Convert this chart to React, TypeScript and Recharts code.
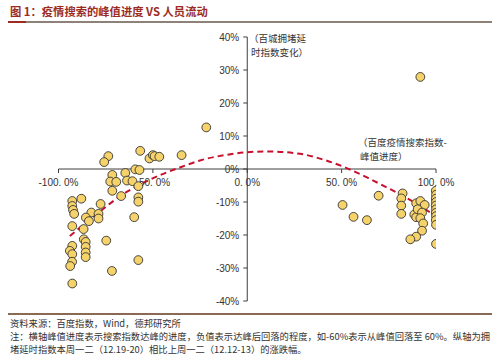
import { ComposedChart, Scatter, Line, XAxis, YAxis, ReferenceLine, ReferenceDot } from "recharts"

// 横轴：百度疫情搜索指数峰值进度 (%)，纵轴：百城拥堵延时指数变化 (%)
const leftProgress = [
  -73.6, -75.8, -71.5, -64.6, -72.6, -69.4, -71.5, -66.8, -92.7, -87.9,
  -92.7, -77.7, -92.3, -91.7, -82.6, -78.8, -85.5, -78.8, -83.9, -92.7,
  -86.7, -59.9, -86.6, -85.6, -85.6, -85.6, -85.6, -74.7, -92.7, -94.0,
  -92.7, -92.8, -93.8, -57.7, -71.7, -92.7, -59.3, -57.1, -63.7, -60.8,
  -57.7, -57.7, -57.7, -56.7, -51.8, -50.0, -49.1, -46.6, -34.8, -21.7,
]
const leftChange = [
  3.9, 2.1, -1.8, -1.2, -3.8, -3.9, -6.6, -8.2, -9.7, -9.0,
  -11.2, -10.6, -12.4, -13.6, -13.2, -13.6, -14.7, -15.0, -15.8, -17.3,
  -18.2, -14.6, -21.3, -22.1, -23.6, -25.3, -26.7, -21.7, -23.3, -24.8,
  -25.8, -28.1, -29.4, -27.6, -30.9, -34.7, -0.1, -0.3, -3.5, -3.7,
  -5.2, -8.6, -9.9, 5.5, 3.2, 4.2, 3.9, 3.7, 4.2, 12.6,
]
const rightProgress = [
  50.5, 56.3, 63.4, 69.6, 82.3, 81.6, 81.6, 81.6, 88.5, 89.5,
  89.5, 91.7, 94.0, 90.3, 92.6, 91.7, 93.2, 92.6, 89.5, 86.4,
  91.7, 100.0, 99.9, 100.0, 99.9, 100.0, 99.9, 100.0, 99.9, 100.0, 99.9,
]
const rightChange = [
  -10.9, -14.5, -15.5, -8.1, -7.4, -8.9, -11.1, -13.6, -13.8, -14.6,
  -10.4, -9.7, -10.9, -12.2, -13.2, -14.9, -16.5, -18.7, -20.5, -21.3,
  27.9, -22.7, -6.6, -7.8, -9.0, -10.0, -11.1, -12.2, -13.3, -14.3, -15.5,
]
const rightExtraProgress = [100.0]
const rightExtraChange = [-16.9]

// 趋势线
const trendProgress = [-94, -80, -67, -55, -46, -35, -25, -12, 0, 12, 28, 40, 53, 65, 75, 82, 90, 100]
const trendChange = [-20.3, -13.8, -8.1, -4.2, -1.8, 0.6, 2.6, 4.2, 5.1, 5.3, 4.6, 2.9, 0.2, -3.0, -5.9, -8.0, -10.6, -14.4]

const xTicks = [-100, -50, 0, 50, 100]
const xTickLabels = ["-100. 0%", "-50. 0%", "0. 0%", "50. 0%", "100. 0%"]
const yTicks = [40, 30, 20, 10, 0, -10, -20, -30, -40]
const yTickLabels = ["40%", "30%", "20%", "10%", "0%", "-10%", "-20%", "-30%", "-40%"]

const points = [
  ...leftProgress.map((x, i) => ({ x, y: leftChange[i] })),
  ...rightProgress.map((x, i) => ({ x, y: rightChange[i] })),
  ...rightExtraProgress.map((x, i) => ({ x, y: rightExtraChange[i] })),
]
const trend = trendProgress.map((x, i) => ({ x, y: trendChange[i] }))

const AXIS = "#3f3f3f"
const TEXT = "#333333"
const LABEL_FONT = '"Liberation Sans", Arial, sans-serif'
const CJK_FONT = '"Noto Sans CJK SC", sans-serif'
const TITLE_RED = "#9c2c1f"

function PointDot(props: any) {
  const { cx, cy } = props
  if (cx == null || cy == null) return null
  return <circle cx={cx} cy={cy} r={4.4} fill="#f6d36a" stroke="#333" strokeWidth={0.9} />
}

const xTickShape = (label: string) => (p: any) => (
  <g>
    <line x1={p.cx} y1={p.cy} x2={p.cx} y2={p.cy + 4} stroke={AXIS} strokeWidth={1} />
    <text x={p.cx} y={p.cy + 13} textAnchor="middle" dominantBaseline="central" fontSize={10} fill={TEXT} fontFamily={LABEL_FONT}>
      {label}
    </text>
  </g>
)

const yTickShape = (label: string) => (p: any) => (
  <g>
    <line x1={p.cx - 4} y1={p.cy} x2={p.cx} y2={p.cy} stroke={AXIS} strokeWidth={1} />
    <text x={p.cx - 8} y={p.cy} textAnchor="end" dominantBaseline="central" fontSize={10} fill={TEXT} fontFamily={LABEL_FONT}>
      {label}
    </text>
  </g>
)

const note = { position: "absolute" as const, fontFamily: CJK_FONT, fontSize: 9.5, color: TEXT, lineHeight: "14px", whiteSpace: "nowrap" as const }
const foot = { position: "absolute" as const, left: 10, fontFamily: CJK_FONT, fontSize: 9.3, color: TEXT, lineHeight: "12px", whiteSpace: "nowrap" as const }

export default function App() {
  return (
    <div style={{ position: "absolute", left: 0, top: 0, width: 500, height: 355, background: "#fff", overflow: "hidden" }}>
      <div style={{ position: "absolute", left: 10, top: 4, fontFamily: CJK_FONT, fontSize: 11.3, fontWeight: 700, color: TITLE_RED, lineHeight: "14px", whiteSpace: "nowrap" }}>
        图 1：疫情搜索的峰值进度 VS 人员流动
      </div>
      <div style={{ position: "absolute", left: 8, top: 21, width: 484, height: 2, background: "#8d8178" }} />
      <div style={{ position: "absolute", left: 8, top: 21, width: 18, height: 2, background: TITLE_RED }} />

      <ComposedChart width={500} height={355} margin={{ top: 37, right: 64, bottom: 54, left: 58.5 }} style={{ position: "absolute", left: 0, top: 0 }}>
        <XAxis type="number" dataKey="x" domain={[-100, 100]} allowDataOverflow hide />
        <YAxis type="number" dataKey="y" domain={[-40, 40]} allowDataOverflow hide />
        <ReferenceLine y={0} stroke={AXIS} strokeWidth={1} />
        <ReferenceLine x={0} stroke={AXIS} strokeWidth={1} />
        {xTicks.map((v, i) => (
          <ReferenceDot key={"x" + v} x={v} y={0} r={0} shape={xTickShape(xTickLabels[i])} />
        ))}
        {yTicks.map((v, i) => (
          <ReferenceDot key={"y" + v} x={0} y={v} r={0} shape={yTickShape(yTickLabels[i])} />
        ))}
        <Scatter data={points} shape={<PointDot />} isAnimationActive={false} />
        <Line
          data={trend}
          dataKey="y"
          type="monotone"
          stroke="#c8102e"
          strokeWidth={2}
          strokeDasharray="6 4"
          dot={false}
          activeDot={false}
          isAnimationActive={false}
        />
      </ComposedChart>

      <div style={{ ...note, left: 249, top: 31 }}>（百城拥堵延</div>
      <div style={{ ...note, left: 251, top: 45 }}>时指数变化）</div>
      <div style={{ ...note, left: 358, top: 135 }}>（百度疫情搜索指数-</div>
      <div style={{ ...note, left: 360, top: 149 }}>峰值进度）</div>

      <div style={{ position: "absolute", left: 8, top: 313, width: 484, height: 2, background: "#8b6a55" }} />
      <div style={{ ...foot, top: 317 }}>资料来源：百度指数，Wind，德邦研究所</div>
      <div style={{ ...foot, top: 330 }}>
        注：横轴峰值进度表示搜索指数达峰的进度，负值表示达峰后回落的程度，如-60%表示从峰值回落至 60%。纵轴为拥
      </div>
      <div style={{ ...foot, top: 343 }}>堵延时指数本周一二（12.19-20）相比上周一二（12.12-13）的涨跌幅。</div>
    </div>
  )
}
